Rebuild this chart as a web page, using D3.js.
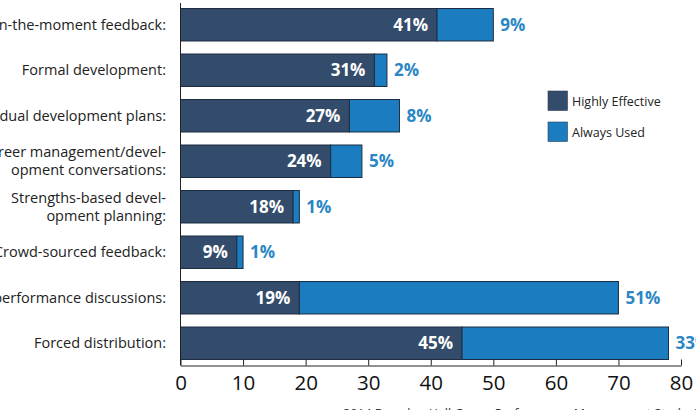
<!DOCTYPE html>
<html>
<head>
<meta charset="utf-8">
<script src="https://cdn.jsdelivr.net/npm/d3@7"></script>
<style>
  html, body { margin: 0; padding: 0; background: #fff; overflow: hidden; }
  svg { display: block; font-family: "Open Sans", "Lato", sans-serif; }
</style>
</head>
<body>
<div id="chart"></div>
<script>
// categories (multi-line labels split by "|")
const categories = [
  "In-the-moment feedback:",
  "Formal development:",
  "Individual development plans:",
  "Career management/devel-|opment conversations:",
  "Strengths-based devel-|opment planning:",
  "Crowd-sourced feedback:",
  "Annual performance discussions:",
  "Forced distribution:"
];
const highlyEffective = [41, 31, 27, 24, 18, 9, 19, 45];
const alwaysUsed = [9, 2, 8, 5, 1, 1, 51, 33];
const xTicks = [0, 10, 20, 30, 40, 50, 60, 70, 80];
const seriesNames = ["Highly Effective", "Always Used"];
const sourceNote = "2014 Brandon Hall Group Performance Management Study, Sample";

const width = 696, height = 410;
const darkBlue = "#344c6c", lightBlue = "#1b7dc0", labelBlue = "#2a86c4";

const svg = d3.select("#chart").append("svg")
  .attr("width", width)
  .attr("height", height);

const x = d3.scaleLinear().domain([0, 80]).range([180.5, 681]);
const y = d3.scaleBand().domain(categories).range([2, 366])
  .paddingInner(0.286).paddingOuter(0.143);

const rows = categories.map((c, i) => ({ cat: c, he: highlyEffective[i], au: alwaysUsed[i] }));

// bars
const g = svg.append("g");
g.selectAll(".he").data(rows).enter().append("rect")
  .attr("class", "he")
  .attr("x", x(0))
  .attr("y", d => y(d.cat))
  .attr("width", d => x(d.he) - x(0))
  .attr("height", y.bandwidth())
  .attr("fill", darkBlue)
  .attr("stroke", "#1e2d42")
  .attr("stroke-width", 1);

g.selectAll(".au").data(rows).enter().append("rect")
  .attr("class", "au")
  .attr("x", d => x(d.he))
  .attr("y", d => y(d.cat))
  .attr("width", d => x(d.he + d.au) - x(d.he))
  .attr("height", y.bandwidth())
  .attr("fill", lightBlue)
  .attr("stroke", "#1e2d42")
  .attr("stroke-width", 1);

// value labels
g.selectAll(".heLbl").data(rows).enter().append("text")
  .attr("x", d => x(d.he) - 9)
  .attr("y", d => y(d.cat) + y.bandwidth() / 2)
  .attr("dy", "0.36em")
  .attr("text-anchor", "end")
  .attr("fill", "#fff")
  .attr("font-weight", "bold")
  .attr("font-size", 17)
  .text(d => d.he + "%");

g.selectAll(".auLbl").data(rows).enter().append("text")
  .attr("x", d => x(d.he + d.au) + 7)
  .attr("y", d => y(d.cat) + y.bandwidth() / 2)
  .attr("dy", "0.36em")
  .attr("fill", labelBlue)
  .attr("font-weight", "bold")
  .attr("font-size", 17)
  .text(d => d.au + "%");

// y axis line + category labels
svg.append("line")
  .attr("x1", x(0)).attr("x2", x(0))
  .attr("y1", 3).attr("y2", 365.5)
  .attr("stroke", "#222").attr("stroke-width", 1);

const lbl = svg.selectAll(".cat").data(categories).enter().append("text")
  .attr("text-anchor", "end")
  .attr("font-size", 14.5)
  .attr("fill", "#222");
lbl.each(function(d) {
  const lines = d.split("|");
  const cy = y(d) + y.bandwidth() / 2;
  const lh = 18;
  lines.forEach((t, i) => {
    d3.select(this).append("tspan")
      .attr("x", 166)
      .attr("y", cy + (i - (lines.length - 1) / 2) * lh)
      .attr("dy", "0.36em")
      .text(t);
  });
});

// x axis (ticks pointing inward)
const xAxis = svg.append("g")
  .attr("transform", "translate(0,365.5)")
  .call(d3.axisBottom(x).tickValues(xTicks).tickSizeInner(-6).tickSizeOuter(0).tickPadding(14));
xAxis.select(".domain").attr("stroke", "#222");
xAxis.selectAll(".tick line").attr("stroke", "#222");
xAxis.selectAll(".tick text")
  .attr("font-size", 20.5)
  .attr("font-family", "Open Sans, Lato, sans-serif")
  .attr("fill", "#111")
  .attr("y", 10)
  .attr("dy", "0.71em");

// legend
const legend = svg.append("g").attr("transform", "translate(548,91)");
const legColors = [darkBlue, lightBlue];
seriesNames.forEach((s, i) => {
  legend.append("rect")
    .attr("x", 0).attr("y", i * 31)
    .attr("width", 19.5).attr("height", 19.5)
    .attr("fill", legColors[i])
    .attr("stroke", "#2a3c55").attr("stroke-width", 0.6);
  legend.append("text")
    .attr("x", 24).attr("y", i * 31 + 10)
    .attr("dy", "0.36em")
    .attr("font-size", 12.5)
    .attr("fill", "#222")
    .text(s);
});

// source note (cut by the bottom edge)
svg.append("text")
  .attr("x", 343).attr("y", 418)
  .attr("font-size", 12.5)
  .attr("fill", "#333")
  .text(sourceNote);
</script>
</body>
</html>
